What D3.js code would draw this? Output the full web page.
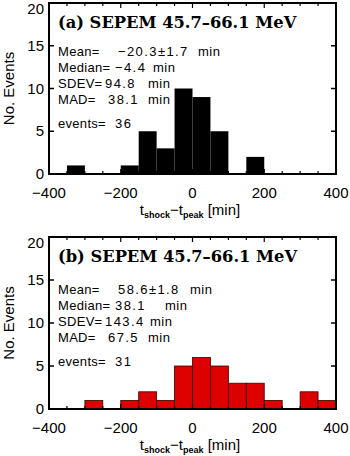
<!DOCTYPE html>
<html>
<head>
<meta charset="utf-8">
<script src="https://cdn.jsdelivr.net/npm/d3@7"></script>
<style>
  html, body { margin: 0; padding: 0; background: #fff; }
  svg { display: block; }
  text { font-family: "Liberation Sans", Arial, sans-serif; fill: #000; }
</style>
</head>
<body>
<div id="chart"></div>
<script>
// bin edges (left edge of each 50-min bin) and counts per panel
const binsA = [-350, -200, -150, -100, -50, 0, 50, 150];
const countsA = [1, 1, 5, 3, 10, 9, 5, 2];
const binsB = [-300, -200, -150, -100, -50, 0, 50, 100, 150, 200, 300, 350];
const countsB = [1, 1, 2, 1, 5, 6, 5, 3, 3, 1, 2, 1];
const binWidth = 50;

const titleA = "(a) SEPEM 45.7\u201366.1 MeV";
const titleB = "(b) SEPEM 45.7\u201366.1 MeV";
const statLabels = ["Mean=", "Median=", "SDEV=", "MAD=", "events="];
const statValuesA = ["\u221220.3\u00b11.7", "\u22124.4", "94.8", "38.1", "36"];
const statValuesB = ["58.6\u00b11.8", "38.1", "143.4", "67.5", "31"];
const statUnits = ["min", "min", "min", "min", ""];

const xTicks = [-400, -200, 0, 200, 400];
const yTicks = [0, 5, 10, 15, 20];

// text column layout of the statistics block
const statRowDy = [0, 16, 32, 48, 72];
const valueXA = [118, 115, 105, 108, 115], unitXA = [198, 153, 148, 148, 0];
const valueXB = [118, 115, 105, 108, 115], unitXB = [190, 165, 150, 148, 0];

const W = 350, H = 456;
const svg = d3.select("#chart").append("svg").attr("width", W).attr("height", H);

const x = d3.scaleLinear().domain([-400, 400]).range([49, 336]);
const fmt = v => (v < 0 ? "\u2212" + Math.abs(v) : "" + v);

function panel(top, bottom, title, values, valueX, unitX, statsTop, bins, counts, fill, stroke) {
  const y = d3.scaleLinear().domain([0, 20]).range([bottom, top]);
  const g = svg.append("g");

  // bars
  g.selectAll("rect.bar")
    .data(bins.map((b, i) => ({ x0: b, n: counts[i] })))
    .enter()
    .append("rect")
    .attr("class", "bar")
    .attr("x", d => x(d.x0))
    .attr("width", d => x(d.x0 + binWidth) - x(d.x0))
    .attr("y", d => y(d.n))
    .attr("height", d => y(0) - y(d.n))
    .attr("fill", fill)
    .attr("stroke", stroke)
    .attr("stroke-width", stroke === "none" ? 0 : 0.8);

  // inward ticks, all four sides
  const minor = d3.range(-400, 401, 50);
  [bottom, top].forEach((edge, k) => {
    const dir = k === 0 ? -1 : 1;
    g.selectAll(null)
      .data(minor)
      .enter()
      .append("line")
      .attr("x1", d => x(d)).attr("x2", d => x(d))
      .attr("y1", edge).attr("y2", d => edge + dir * (d % 200 === 0 ? 5 : 3))
      .attr("stroke", "#000").attr("stroke-width", 1.2);
  });
  x.range().forEach((edge, k) => {
    const dir = k === 0 ? 1 : -1;
    g.selectAll(null)
      .data(yTicks)
      .enter()
      .append("line")
      .attr("x1", edge).attr("x2", edge + dir * 5)
      .attr("y1", d => y(d)).attr("y2", d => y(d))
      .attr("stroke", "#000").attr("stroke-width", 1.5);
  });

  // frame
  g.append("rect")
    .attr("x", x.range()[0]).attr("y", top)
    .attr("width", x.range()[1] - x.range()[0]).attr("height", bottom - top)
    .attr("fill", "none").attr("stroke", "#000").attr("stroke-width", 2);

  // tick labels
  g.selectAll("text.xl")
    .data(xTicks)
    .enter()
    .append("text")
    .attr("x", d => x(d)).attr("y", bottom + 24)
    .attr("text-anchor", "middle")
    .style("font-size", "15px")
    .text(fmt);
  g.selectAll("text.yl")
    .data(yTicks)
    .enter()
    .append("text")
    .attr("x", x.range()[0] - 5).attr("y", d => Math.max(y(d) + 5, top + 11))
    .attr("text-anchor", "end")
    .style("font-size", "15px")
    .text(d => d);

  // axis titles
  const xt = g.append("text")
    .attr("x", 190).attr("y", bottom + 41)
    .attr("text-anchor", "middle")
    .style("font-size", "15px");
  xt.append("tspan").text("t");
  xt.append("tspan").attr("dy", 3).style("font-size", "9px").style("font-weight", "bold").text("shock");
  xt.append("tspan").attr("dy", -3).text("\u2212t");
  xt.append("tspan").attr("dy", 3).style("font-size", "9px").style("font-weight", "bold").text("peak");
  xt.append("tspan").attr("dy", -3).text(" [min]");

  g.append("text")
    .attr("transform", `translate(14, ${(top + bottom) / 2}) rotate(-90)`)
    .attr("text-anchor", "middle")
    .style("font-size", "15px")
    .text("No. Events");

  // title and statistics
  g.append("text")
    .attr("x", 58).attr("y", top + 25)
    .style("font-family", "'DejaVu Serif', serif")
    .style("font-weight", "bold")
    .style("font-size", "16.3px")
    .text(title);
  statLabels.forEach((lab, i) => {
    const t = g.append("text")
      .attr("y", statsTop + statRowDy[i])
      .style("font-size", "13px");
    t.append("tspan").attr("x", 58).style("letter-spacing", "0.3px").text(lab);
    t.append("tspan").attr("x", valueX[i]).style("letter-spacing", "1.4px").text(values[i]);
    if (statUnits[i]) t.append("tspan").attr("x", unitX[i]).style("letter-spacing", "0.5px").text(statUnits[i]);
  });
}

panel(3, 174, titleA, statValuesA, valueXA, unitXA, 56, binsA, countsA, "#000", "none");
panel(237, 409, titleB, statValuesB, valueXB, unitXB, 294, binsB, countsB, "#dd0000", "#3a0000");
</script>
</body>
</html>
